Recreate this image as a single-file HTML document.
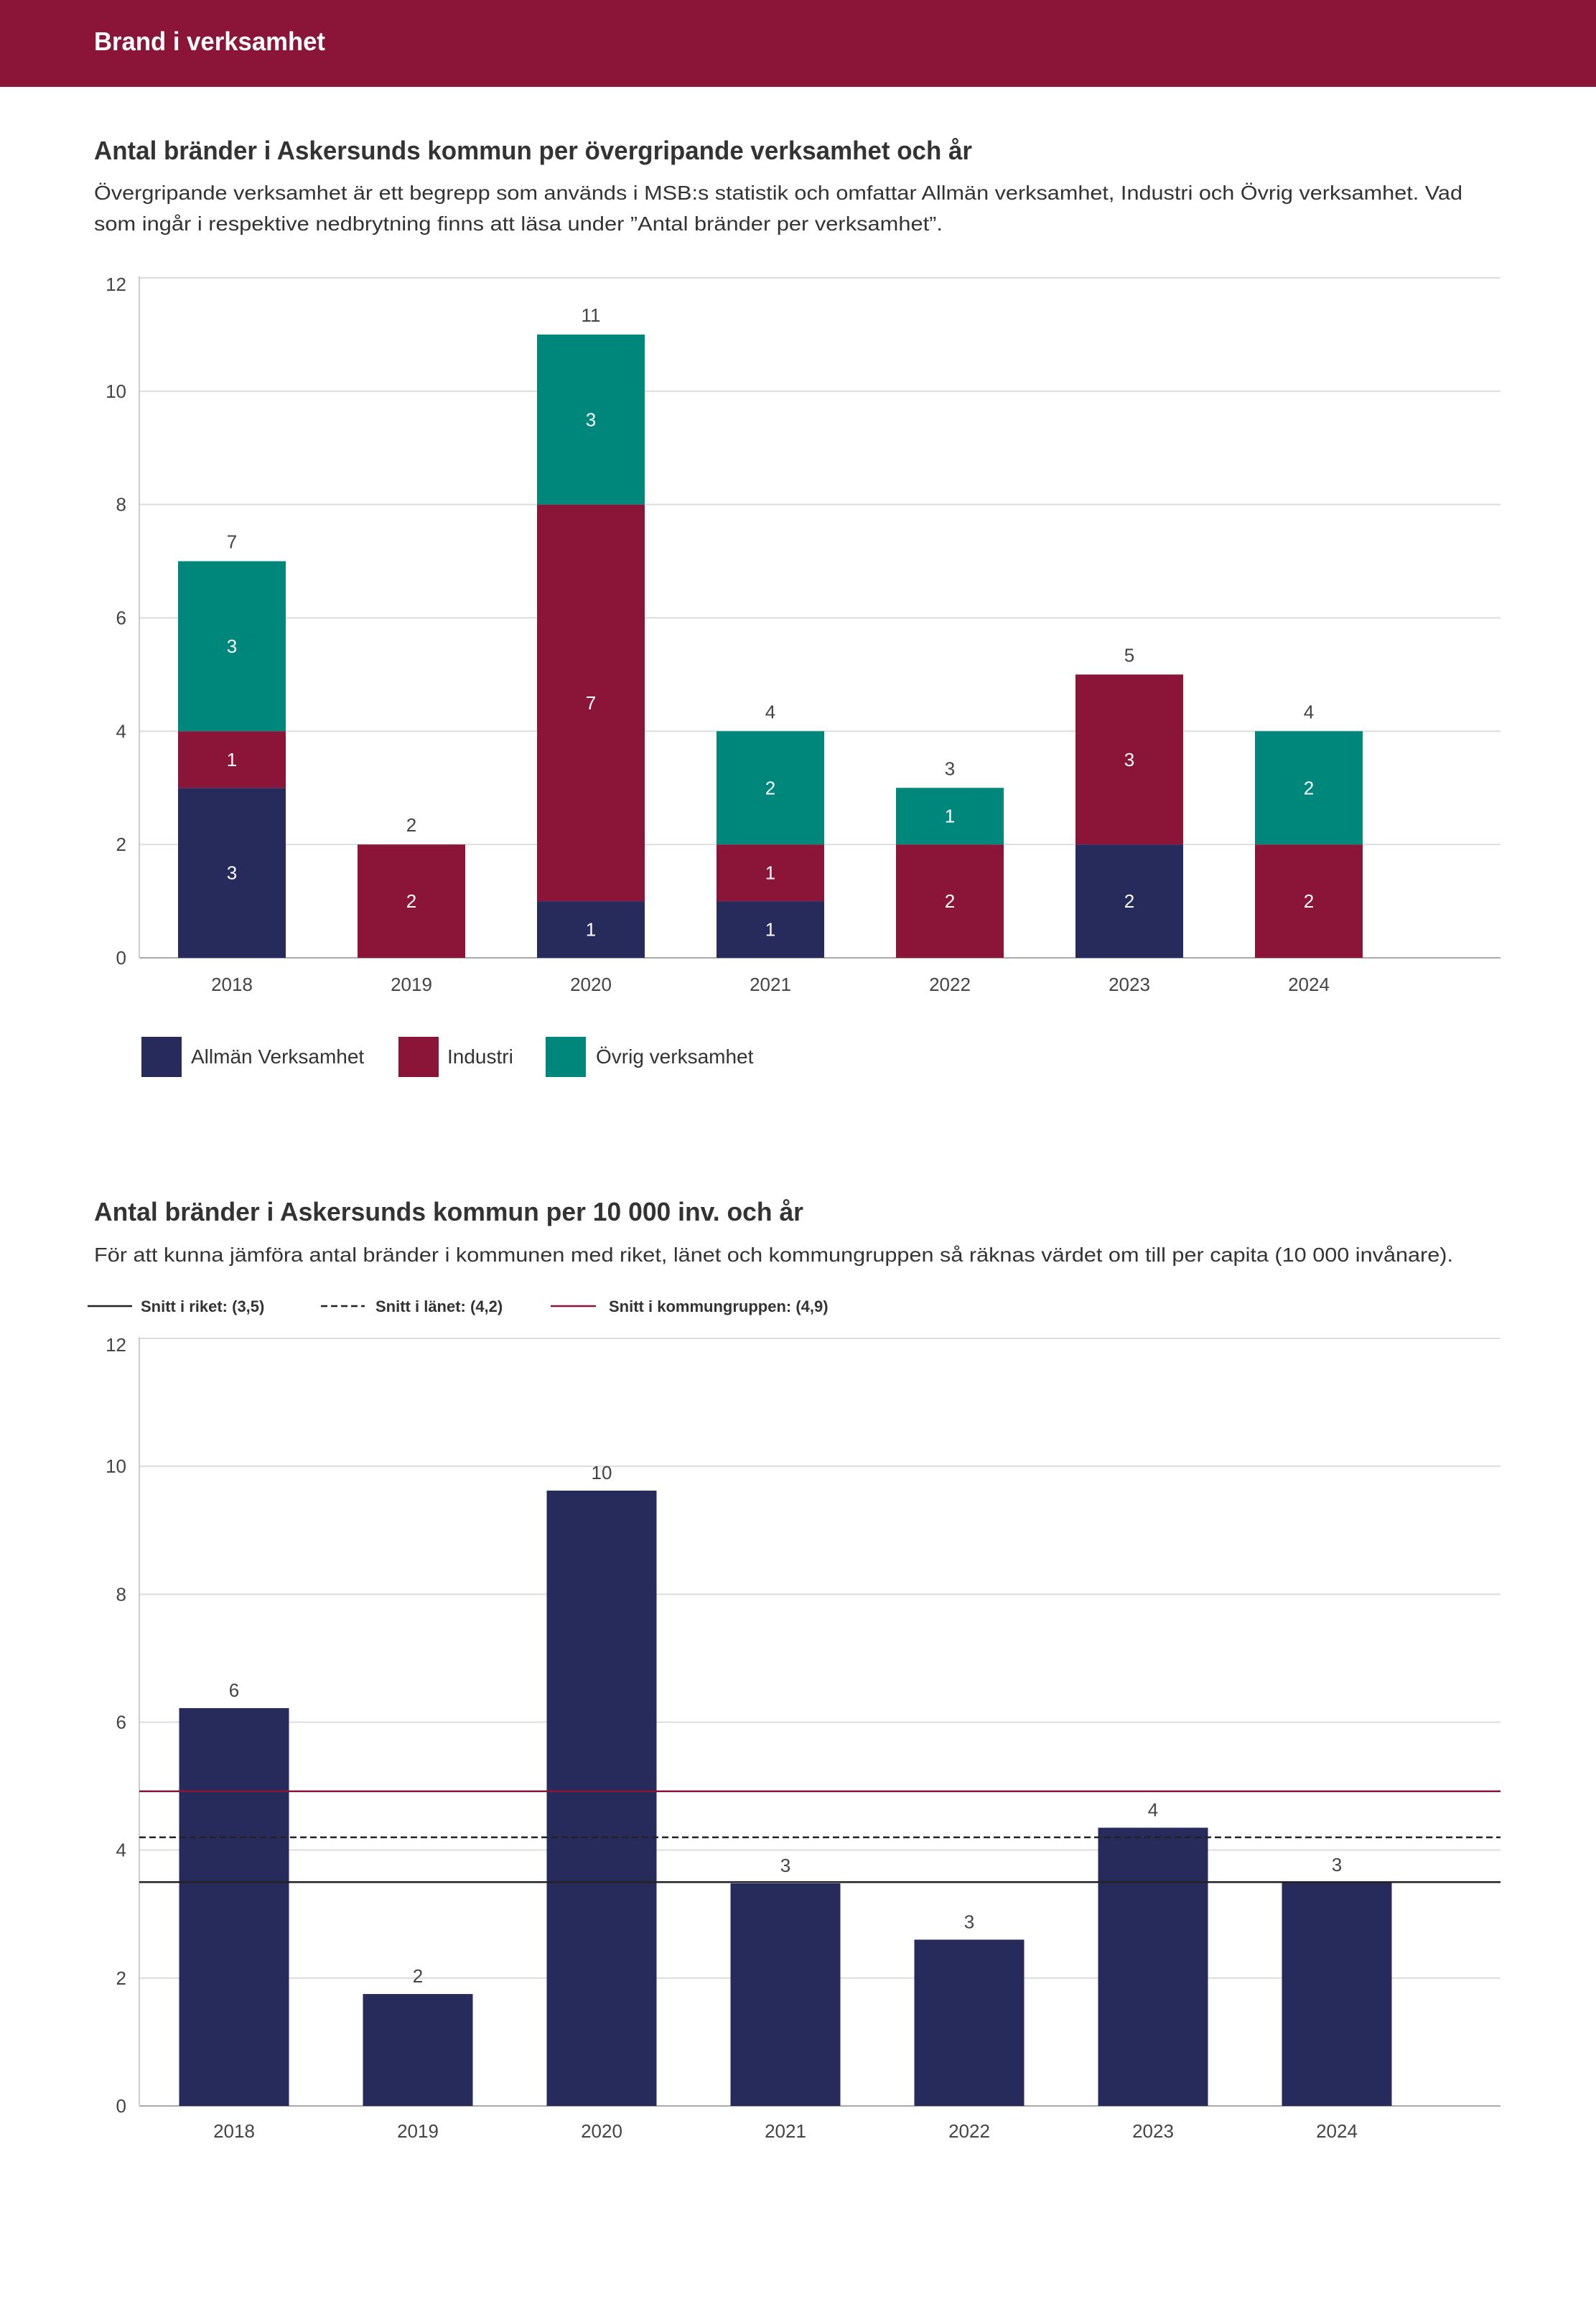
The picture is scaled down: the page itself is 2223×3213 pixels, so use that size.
<!DOCTYPE html>
<html><head><meta charset="utf-8"><style>
html,body{margin:0;padding:0;background:#fff}
svg{display:block;font-family:"Liberation Sans",sans-serif}
</style></head><body>
<svg id="page" width="2223" height="3213" viewBox="0 0 2223 3213" xmlns="http://www.w3.org/2000/svg">
<rect x="0" y="0" width="2223" height="121" fill="#8B1538"/>
<text x="131" y="70" font-size="36" font-weight="bold" fill="#fff" textLength="322" lengthAdjust="spacingAndGlyphs">Brand i verksamhet</text>

<text x="131" y="222" font-size="36" font-weight="bold" fill="#333" textLength="1223" lengthAdjust="spacingAndGlyphs">Antal bränder i Askersunds kommun per övergripande verksamhet och år</text>
<text x="131" y="278" font-size="28" fill="#333" textLength="1906" lengthAdjust="spacingAndGlyphs">Övergripande verksamhet är ett begrepp som används i MSB:s statistik och omfattar Allmän verksamhet, Industri och Övrig verksamhet. Vad</text>
<text x="131" y="321" font-size="28" fill="#333" textLength="1182" lengthAdjust="spacingAndGlyphs">som ingår i respektive nedbrytning finns att läsa under ”Antal bränder per verksamhet”.</text>
<g id="chart1"></g>
<g>
<rect x="197" y="1444" width="56" height="56" fill="#262B5B"/>
<text x="266" y="1481" font-size="28" fill="#333">Allmän Verksamhet</text>
<rect x="555" y="1444" width="56" height="56" fill="#8B1538"/>
<text x="623" y="1481" font-size="28" fill="#333">Industri</text>
<rect x="760" y="1444" width="56" height="56" fill="#00877B"/>
<text x="830" y="1481" font-size="28" fill="#333">Övrig verksamhet</text>
</g>

<text x="131" y="1700" font-size="36" font-weight="bold" fill="#333" textLength="988" lengthAdjust="spacingAndGlyphs">Antal bränder i Askersunds kommun per 10 000 inv. och år</text>
<text x="131" y="1757" font-size="28" fill="#333" textLength="1893" lengthAdjust="spacingAndGlyphs">För att kunna jämföra antal bränder i kommunen med riket, länet och kommungruppen så räknas värdet om till per capita (10 000 invånare).</text>
<g>
<line x1="122" y1="1819" x2="184" y2="1819" stroke="#222" stroke-width="2.5"/>
<text x="196" y="1827" font-size="22" font-weight="bold" fill="#333">Snitt i riket: (3,5)</text>
<line x1="447" y1="1819" x2="508" y2="1819" stroke="#222" stroke-width="2.5" stroke-dasharray="9,5"/>
<text x="523" y="1827" font-size="22" font-weight="bold" fill="#333">Snitt i länet: (4,2)</text>
<line x1="767" y1="1819" x2="830" y2="1819" stroke="#8B1538" stroke-width="2.5"/>
<text x="848" y="1827" font-size="22" font-weight="bold" fill="#333">Snitt i kommungruppen: (4,9)</text>
</g>
<g id="chart2"></g>
</svg>
<script>
const years = ["2018","2019","2020","2021","2022","2023","2024"];
const allman = [3,0,1,1,0,2,0];
const industri = [1,2,7,1,2,3,2];
const ovrig = [3,0,3,2,1,0,2];
const yTicks = [0,2,4,6,8,10,12];
const perCapita = [6.22,1.75,9.62,3.48,2.6,4.35,3.49];
const snittRiket = 3.5;
const snittLanet = 4.2;
const snittKommungrupp = 4.92;

const NS = "http://www.w3.org/2000/svg";
function mk(parent, tag, attrs, text){
  const e = document.createElementNS(NS, tag);
  for (const k in attrs) e.setAttribute(k, attrs[k]);
  if (text !== undefined) e.textContent = text;
  parent.appendChild(e);
  return e;
}
function drawAxes(g, y, left, right, prefix){
  yTicks.forEach(t => {
    const l = mk(g, "line", {x1:left, x2:right, y1:y(t), y2:y(t), stroke:t===0?"#aaa":"#ddd", "stroke-width":2});
    
    
    const tx = mk(g, "text", {x:left-18, y:y(t)+(t===12?18:9), "font-size":26, fill:"#444", "text-anchor":"end"}, String(t));
    
    
  });
  const ax = mk(g, "line", {x1:left, x2:left, y1:y(12)-2, y2:y(0), stroke:"#ccc", "stroke-width":2});
  
  
}

// Chart 1
(function(){
  const g = document.getElementById("chart1");
  const left = 194, right = 2090, y0 = 1334, y12 = 387;
  const y = v => y0 - (y0 - y12) * v / 12;
  const band = 250, c0 = 323, bw = 150;
  const xc = i => c0 + i * band;
  drawAxes(g, y, left, right, "chart1");
  years.forEach((yr, i) => {
    const segs = [[allman[i], "#262B5B", "allman"], [industri[i], "#8B1538", "industri"], [ovrig[i], "#00877B", "ovrig"]];
    let base = 0;
    segs.forEach(s => {
      if (s[0] > 0) {
        const r = mk(g, "rect", {x:xc(i)-bw/2, y:y(base+s[0]), width:bw, height:y(base)-y(base+s[0]), fill:s[1]});
        
        
        const t = mk(g, "text", {x:xc(i), y:(y(base)+y(base+s[0]))/2+9, "font-size":26, fill:"#fff", "text-anchor":"middle"}, String(s[0]));
        
        
        base += s[0];
      }
    });
    const tt = mk(g, "text", {x:xc(i), y:y(base)-18, "font-size":26, fill:"#444", "text-anchor":"middle"}, String(base));
    
    
    const xl = mk(g, "text", {x:xc(i), y:1380, "font-size":26, fill:"#444", "text-anchor":"middle"}, yr);
    
    
  });
})();

// Chart 2
(function(){
  const g = document.getElementById("chart2");
  const left = 194, right = 2090, y0 = 2933, y12 = 1864;
  const y = v => y0 - (y0 - y12) * v / 12;
  const band = 256, c0 = 326, bw = 153;
  const xc = i => c0 + i * band;
  drawAxes(g, y, left, right, "chart2");
  years.forEach((yr, i) => {
    const r = mk(g, "rect", {x:xc(i)-bw/2, y:y(perCapita[i]), width:bw, height:y(0)-y(perCapita[i]), fill:"#262B5B"});
    
    
    const t = mk(g, "text", {x:xc(i), y:y(perCapita[i])-16, "font-size":26, fill:"#444", "text-anchor":"middle"}, String(Math.round(perCapita[i])));
    
    
    const xl = mk(g, "text", {x:xc(i), y:2977, "font-size":26, fill:"#444", "text-anchor":"middle"}, yr);
    
    
  });
  const l1 = mk(g, "line", {x1:left, x2:right, y1:y(snittKommungrupp), y2:y(snittKommungrupp), stroke:"#8B1538", "stroke-width":2.5});
  
  
  const l2 = mk(g, "line", {x1:left, x2:right, y1:y(snittLanet), y2:y(snittLanet), stroke:"#222", "stroke-width":2.5, "stroke-dasharray":"9,5"});
  
  
  const l3 = mk(g, "line", {x1:left, x2:right, y1:y(snittRiket), y2:y(snittRiket), stroke:"#222", "stroke-width":2.5});
  
  
})();
</script>
</body></html>
